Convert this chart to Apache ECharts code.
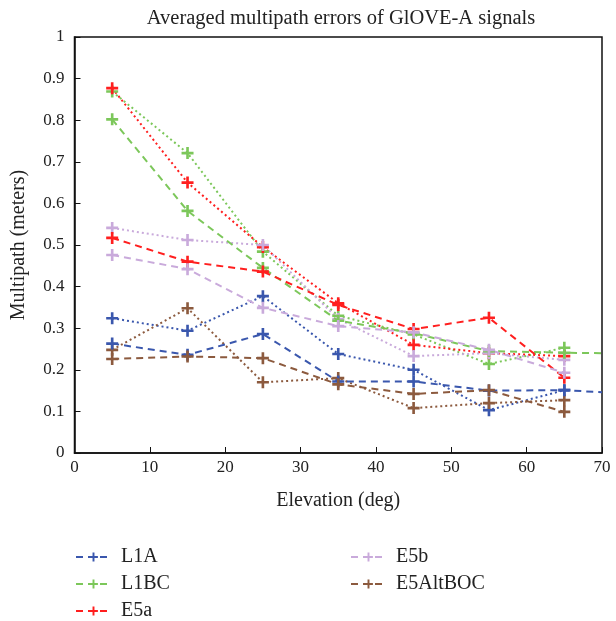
<!DOCTYPE html>
<html><head><meta charset="utf-8">
<script src="https://cdn.jsdelivr.net/npm/echarts@6/dist/echarts.min.js"></script>
<style>html,body{margin:0;padding:0;background:#fff}#c{width:616px;height:621px}</style>
</head><body><div id="c"></div>
<script>
const elevations = [5, 15, 25, 35, 45, 55, 65];
const extraElevation = 70;
const signals = ['L1A', 'L1BC', 'E5a', 'E5b', 'E5AltBOC'];
const colors = ['#3a57ad', '#7cc75a', '#ff1f1f', '#c9aadb', '#8c5a3e'];
// dashed series (legend)
const L1A_dash = [0.263, 0.236, 0.286, 0.172, 0.172, 0.150, 0.151];
const L1BC_dash = [0.802, 0.582, 0.445, 0.318, 0.288, 0.245, 0.241];
const E5a_dash = [0.517, 0.460, 0.436, 0.356, 0.298, 0.325, 0.181];
const E5b_dash = [0.476, 0.442, 0.349, 0.305, 0.290, 0.248, 0.193];
const E5AltBOC_dash = [0.226, 0.232, 0.228, 0.165, 0.142, 0.151, 0.099];
// dashed tails at 70 deg
const L1A_tail = 0.146;
const L1BC_tail = 0.240;
// dotted series
const L1A_dot = [0.324, 0.294, 0.377, 0.238, 0.200, 0.103, 0.151];
const L1BC_dot = [0.869, 0.721, 0.484, 0.330, 0.285, 0.214, 0.253];
const E5a_dot = [0.877, 0.650, 0.495, 0.360, 0.260, 0.240, 0.233];
const E5b_dot = [0.541, 0.512, 0.500, 0.322, 0.233, 0.240, 0.224];
const E5AltBOC_dot = [0.248, 0.348, 0.170, 0.180, 0.108, 0.120, 0.127];
const yTicks = [0, 0.1, 0.2, 0.3, 0.4, 0.5, 0.6, 0.7, 0.8, 0.9, 1];

const dashSets = [L1A_dash, L1BC_dash, E5a_dash, E5b_dash, E5AltBOC_dash];
const dotSets = [L1A_dot, L1BC_dot, E5a_dot, E5b_dot, E5AltBOC_dot];
const tails = [L1A_tail, L1BC_tail, null, null, null];
const plus = 'path://M3.9,0H6.1V3.9H10V6.1H6.1V10H3.9V6.1H0V3.9H3.9Z';
const font = '"Liberation Serif", "Times New Roman", serif';

const series = [];
signals.forEach((s, i) => {
  const d = elevations.map((x, k) => [x, dashSets[i][k]]);
  if (tails[i] !== null) d.push({value: [extraElevation, tails[i]], symbol: 'none'});
  series.push({
    name: s, type: 'line', data: d, symbol: plus, symbolSize: 12,
    itemStyle: {color: colors[i]},
    lineStyle: {color: colors[i], width: 2, type: [7, 5]},
    z: 3
  });
});
signals.forEach((s, i) => {
  series.push({
    name: s + ' dotted', type: 'line', data: elevations.map((x, k) => [x, dotSets[i][k]]),
    symbol: plus, symbolSize: 12,
    itemStyle: {color: colors[i]},
    lineStyle: {color: colors[i], width: 2, type: [2, 3]},
    z: 2
  });
});

const chart = echarts.init(document.getElementById('c'));
const legendCommon = {
  orient: 'vertical', itemWidth: 35, itemHeight: 11, itemGap: 7, padding: 0, height: 80,
  textStyle: {fontFamily: font, fontSize: 20, color: '#222', lineHeight: 20, padding: [0, 0, 0, 5]}
};
chart.setOption({
  animation: false,
  backgroundColor: '#fff',
  textStyle: {fontFamily: font},
  title: {
    text: 'Averaged multipath errors of GlOVE-A signals',
    left: 336, top: 3, textAlign: 'center',
    textStyle: {fontFamily: font, fontSize: 20.5, fontWeight: 'normal', color: '#222'}
  },
  grid: {left: 74.5, right: 14, top: 37, bottom: 168, show: true, borderColor: '#111', borderWidth: 1.5},
  legend: [
    Object.assign({left: 75, top: 547, data: signals.slice(0, 3)}, legendCommon),
    Object.assign({left: 350, top: 547, data: signals.slice(3)}, legendCommon)
  ],
  xAxis: {
    type: 'value', min: 0, max: 70, interval: 10,
    name: 'Elevation (deg)', nameLocation: 'middle', nameGap: 38,
    nameTextStyle: {fontFamily: font, fontSize: 20, color: '#222'},
    axisLine: {lineStyle: {color: '#111', width: 1.5}},
    axisTick: {inside: true, length: 6, lineStyle: {color: '#111'}},
    axisLabel: {fontFamily: font, fontSize: 17, color: '#222', margin: 6},
    splitLine: {show: false}
  },
  yAxis: {
    type: 'value', min: 0, max: 1, interval: 0.1,
    name: 'Multipath (meters)', nameLocation: 'middle', nameGap: 46,
    nameTextStyle: {fontFamily: font, fontSize: 20, color: '#222'},
    axisLine: {show: true, lineStyle: {color: '#111', width: 1.5}},
    axisTick: {show: true, inside: true, length: 6, lineStyle: {color: '#111'}},
    axisLabel: {fontFamily: font, fontSize: 17, color: '#222', margin: 10,
      formatter: v => { const t = yTicks.find(a => Math.abs(a - v) < 1e-9); return String(t !== undefined ? t : v); }},
    splitLine: {show: false}
  },
  series: series
});
</script></body></html>
